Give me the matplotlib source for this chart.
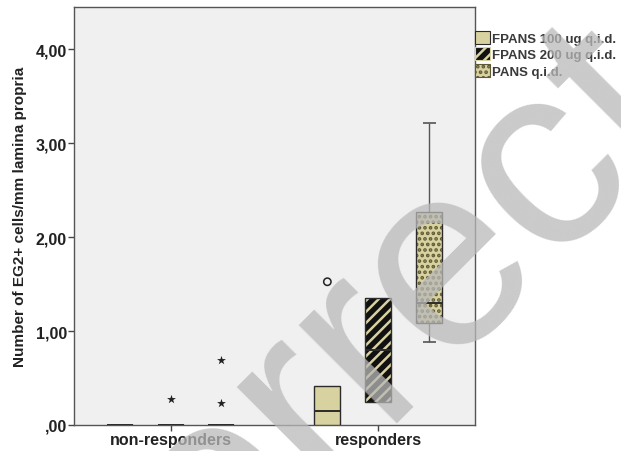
import matplotlib
matplotlib.use("Agg")
import matplotlib.pyplot as plt
from matplotlib.patches import Patch
import numpy as np

plt.rcParams["font.family"] = ["Liberation Sans", "DejaVu Sans"]
plt.rcParams["hatch.linewidth"] = 1.8

# data
groups = ["non-responders", "responders"]
series = ["FPANS 100 ug q.i.d.", "FPANS 200 ug q.i.d.", "PANS q.i.d."]

# per series: values for [non-responders, responders]
q1 = [[0.0, 0.0], [0.0, 0.245], [0.0, 1.085]]
med = [[0.0, 0.152], [0.0, 0.80], [0.0, 1.30]]
q3 = [[0.0, 0.41], [0.0, 1.355], [0.0, 2.27]]
whislo = [[0.0, 0.0], [0.0, 0.245], [0.0, 0.886]]
whishi = [[0.0, 0.41], [0.0, 1.355], [0.0, 3.22]]
# outliers: (series, group, value)
circles = [(0, 1, 1.525)]
stars = [(1, 0, 0.277), (2, 0, 0.69), (2, 0, 0.234)]

yticks = [0, 1, 2, 3, 4]
ytick_labels = [",00", "1,00", "2,00", "3,00", "4,00"]

beige = "#d8d2a0"
dark = "#2b2b2b"
offsets = [-0.245, 0.0, 0.245]
box_w = 0.125
cap_w = 0.062

fig = plt.figure(figsize=(6.21, 4.52), dpi=100)
ax = fig.add_axes([74 / 621, 1 - 426 / 452, 401 / 621, 418 / 452])
ax.set_facecolor("#f0f0f0")

x = np.arange(len(groups))
for s in range(len(series)):
    xs = x + offsets[s]
    lo = np.array(q1[s])
    hi = np.array(q3[s])
    h = hi - lo
    if s == 0:
        ax.bar(xs, h, box_w, bottom=lo, color=beige, edgecolor=dark, linewidth=1.0, zorder=3)
    elif s == 1:
        ax.bar(xs, h, box_w, bottom=lo, facecolor="#111111", edgecolor=beige,
               hatch="///", linewidth=0, zorder=3)
        ax.bar(xs, h, box_w, bottom=lo, fill=False, edgecolor=dark, linewidth=1.0, zorder=4)
    else:
        ax.bar(xs, h, box_w, bottom=lo, facecolor=beige, edgecolor="#5f5a36",
               hatch="...", linewidth=0, zorder=3)
        ax.bar(xs, h, box_w, bottom=lo, fill=False, edgecolor=dark, linewidth=1.0, zorder=4)
    ax.hlines(med[s], xs - box_w / 2, xs + box_w / 2, color=dark, linewidth=1.4, zorder=5)
    # whiskers
    for i in range(len(groups)):
        if whishi[s][i] > q3[s][i]:
            ax.vlines(xs[i], q3[s][i], whishi[s][i], color="#555555", linewidth=1.0, zorder=2)
            ax.hlines(whishi[s][i], xs[i] - cap_w / 2, xs[i] + cap_w / 2, color="#555555", linewidth=1.2, zorder=2)
        if whislo[s][i] < q1[s][i]:
            ax.vlines(xs[i], whislo[s][i], q1[s][i], color="#555555", linewidth=1.0, zorder=2)
            ax.hlines(whislo[s][i], xs[i] - cap_w / 2, xs[i] + cap_w / 2, color="#555555", linewidth=1.2, zorder=2)

for s, g, v in circles:
    ax.scatter(g + offsets[s], v, s=28, facecolor="none", edgecolor="#222222", linewidth=1.1, zorder=5)
for s, g, v in stars:
    ax.scatter(g + offsets[s], v, s=45, marker="*", color="#222222", linewidth=0, zorder=5)

ax.set_xlim(-0.465, 1.466)
ax.set_ylim(0, 4.45)
ax.set_xticks(x)
ax.set_xticklabels(groups, fontsize=11.5, fontweight="bold", color="#222222")
ax.set_yticks(yticks)
ax.set_yticklabels(ytick_labels, fontsize=11.5, fontweight="bold", color="#222222")
ax.tick_params(axis="both", direction="out", length=4, width=1, color="#444444", pad=1)
for sp in ax.spines.values():
    sp.set_color("#555555")
    sp.set_linewidth(1.0)
ax.set_ylabel("Number of EG2+ cells/mm lamina propria", fontsize=11, fontweight="bold",
              color="#222222", labelpad=6)

handles = [
    Patch(facecolor=beige, edgecolor=dark, linewidth=0.8),
    Patch(facecolor="#111111", edgecolor=beige, hatch="///", linewidth=0.8),
    Patch(facecolor=beige, edgecolor="#5f5a36", hatch="...", linewidth=0.8),
]
fig.legend(handles, series, loc="upper left", bbox_to_anchor=(475 / 621, 1 - 32 / 452),
           bbox_transform=fig.transFigure, frameon=False, borderpad=0, borderaxespad=0,
           handlelength=1.15, handleheight=1.1, handletextpad=0.15, labelspacing=0.2,
           prop={"size": 9.5, "weight": "bold"}, labelcolor="#3a3a3a")

# watermark over the whole figure
fig.text(327 / 621, 1 - 470 / 452, "Incorrect", rotation=45, rotation_mode="anchor",
         ha="center", va="baseline", fontsize=189, color="#b9b9b9",
         alpha=0.75, family="Liberation Sans", zorder=10)

fig.savefig("out.png", dpi=100)
